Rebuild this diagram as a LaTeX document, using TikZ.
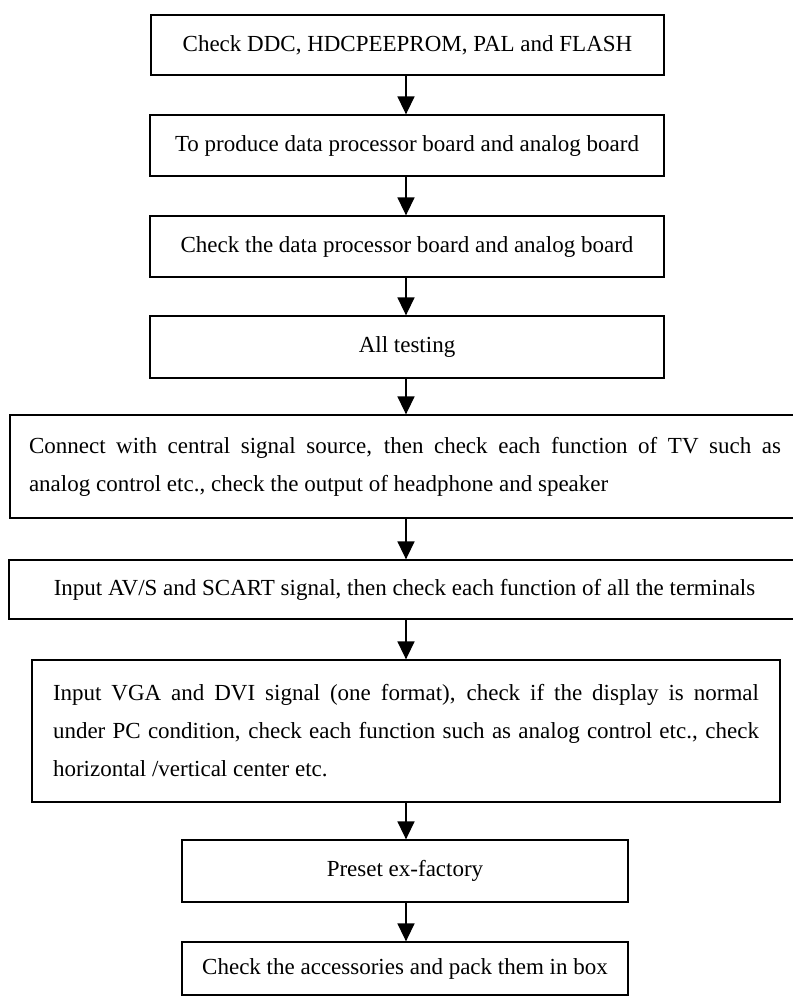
\documentclass[tikz,border=0pt]{standalone}
\usepackage{fontspec}
\setmainfont{Liberation Serif}
\usetikzlibrary{arrows.meta}
\setlength{\parindent}{0pt}
\begin{document}
\begin{tikzpicture}[x=1pt,y=-1pt,
  stepbox/.style={draw, line width=1.3pt, inner sep=0pt, font=\fontsize{23}{38}\selectfont, align=center},
  widebox/.style={stepbox, align=justify},
  arr/.style={line width=1.5pt, -{Triangle[width=17pt,length=18pt]}}]
\useasboundingbox[fill=white] (0,0) rectangle (793,997);
\coordinate (ax) at (406,0);
\node[stepbox, minimum width=513pt, minimum height=60pt] (b1) at (407.5,45) {Check DDC, HDCPEEPROM, PAL and FLASH};
\node[stepbox, minimum width=514pt, minimum height=61pt] (b2) at (407,145.5) {To produce data processor board and analog board};
\node[stepbox, minimum width=514pt, minimum height=61pt] (b3) at (407,246.5) {Check the data processor board and analog board};
\node[stepbox, minimum width=514pt, minimum height=62pt] (b4) at (407,347) {All testing};
\node[widebox, text width=752pt, inner xsep=19pt, minimum height=103pt] (b5) at (405,466.5) {Connect with central signal source, then check each function of TV such as\linebreak analog control etc., check the output of headphone and speaker};
\node[stepbox, minimum width=791pt, minimum height=59pt] (b6) at (404.5,589.5) {Input AV/S and SCART signal, then check each function of all the terminals};
\node[widebox, text width=706pt, inner xsep=21pt, minimum height=142pt] (b7) at (406,731) {Input VGA and DVI signal (one format), check if the display is normal\linebreak under PC condition, check each function such as analog control etc., check\linebreak horizontal /vertical center etc.};
\node[stepbox, minimum width=446pt, minimum height=62pt] (b8) at (405,871) {Preset ex-factory};
\node[stepbox, minimum width=446pt, minimum height=53pt] (b9) at (405,968.5) {Check the accessories and pack them in box};
\foreach \a/\b in {b1/b2,b2/b3,b3/b4,b4/b5,b5/b6,b6/b7,b7/b8,b8/b9}
  \draw[arr] (\a.south -| ax) -- (\b.north -| ax);
\end{tikzpicture}
\end{document}
